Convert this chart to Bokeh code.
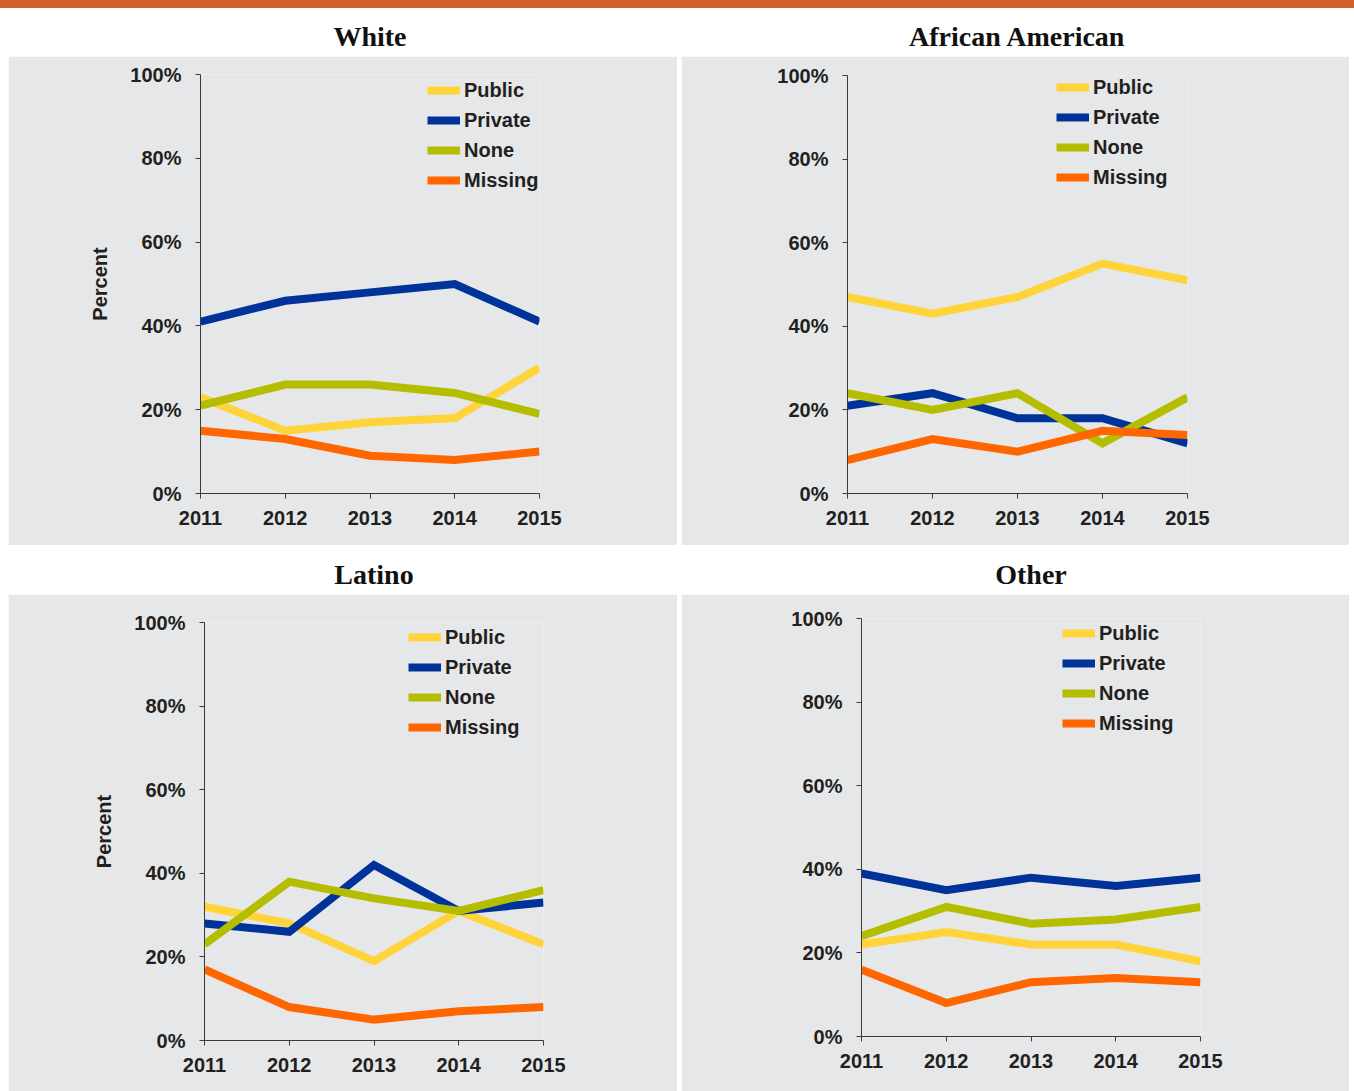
from bokeh.plotting import figure
from bokeh.models import Range1d, FixedTicker, PrintfTickFormatter, Legend, LegendItem, Spacer
from bokeh.layouts import column, row
from bokeh.core.properties import value
from bokeh.embed import file_html
from bokeh.resources import INLINE

# ---------------- data ----------------
years = [2011, 2012, 2013, 2014, 2015]
series_names = ["Public", "Private", "None", "Missing"]
y_ticks = [0, 20, 40, 60, 80, 100]

white_public = [23, 15, 17, 18, 30]
white_private = [41, 46, 48, 50, 41]
white_none = [21, 26, 26, 24, 19]
white_missing = [15, 13, 9, 8, 10]

aa_public = [47, 43, 47, 55, 51]
aa_private = [21, 24, 18, 18, 12]
aa_none = [24, 20, 24, 12, 23]
aa_missing = [8, 13, 10, 15, 14]

latino_public = [32, 28, 19, 31, 23]
latino_private = [28, 26, 42, 31, 33]
latino_none = [23, 38, 34, 31, 36]
latino_missing = [17, 8, 5, 7, 8]

other_public = [22, 25, 22, 22, 18]
other_private = [39, 35, 38, 36, 38]
other_none = [24, 31, 27, 28, 31]
other_missing = [16, 8, 13, 14, 13]

panel_titles = ["White", "African American", "Latino", "Other"]

# ---------------- style ----------------
COLORS = {"Public": "#FFD43B", "Private": "#003399", "None": "#B5BD00", "Missing": "#FF6600"}
BG = "#E6E7E8"
TXT = "#231F20"
AXIS = "#3A3A3A"
FONT = "Liberation Sans"


def blank_fig(width, height, fill):
    f = figure(width=width, height=height, output_backend="svg", toolbar_location=None, title=None,
               x_axis_type=None, y_axis_type=None,
               x_range=Range1d(0, 1), y_range=Range1d(0, height),
               min_border=0, min_border_left=0, min_border_right=0,
               min_border_top=0, min_border_bottom=0)
    f.grid.visible = False
    f.outline_line_color = None
    f.background_fill_color = fill
    f.border_fill_color = fill
    f.styles = {"background-color": fill}
    return f


def title_fig(text, width):
    t = blank_fig(width, 48, "white")
    t.text(x=[0.5], y=[20], text=[text], text_align="center", text_baseline="middle",
           text_font=value("Liberation Serif"), text_font_style="bold",
           text_font_size="28px", text_color="#111111")
    return t


def panel(data, width, height, bl, br, bt, bb, ylabel, leg_xy):
    p = figure(width=width, height=height, output_backend="svg", toolbar_location=None, title=None,
               x_range=Range1d(2011, 2015), y_range=Range1d(0, 100),
               min_border_left=bl, min_border_right=br, min_border_top=bt, min_border_bottom=bb)
    p.background_fill_color = BG
    p.border_fill_color = BG
    p.outline_line_color = None
    p.grid.visible = False

    items = []
    for name in series_names:
        r = p.line(years, data[name], line_width=8, line_color=COLORS[name], line_join="miter")
        items.append(LegendItem(label=name, renderers=[r]))

    for ax in (p.xaxis[0], p.yaxis[0]):
        ax.axis_line_color = AXIS
        ax.axis_line_width = 1
        ax.major_tick_line_color = AXIS
        ax.major_tick_out = 5
        ax.major_tick_in = 0
        ax.minor_tick_line_color = None
        ax.major_label_text_font = FONT
        ax.major_label_text_font_style = "bold"
        ax.major_label_text_font_size = "20px"
        ax.major_label_text_color = TXT

    p.xaxis.ticker = FixedTicker(ticks=years)
    p.xaxis.formatter = PrintfTickFormatter(format="%d")
    p.xaxis.major_label_standoff = 12
    p.yaxis.ticker = FixedTicker(ticks=y_ticks)
    p.yaxis.formatter = PrintfTickFormatter(format="%d%%")
    p.yaxis.major_label_standoff = 14
    if ylabel:
        p.yaxis.axis_label = ylabel
        p.yaxis.axis_label_text_font = FONT
        p.yaxis.axis_label_text_font_style = "bold"
        p.yaxis.axis_label_text_font_size = "20px"
        p.yaxis.axis_label_text_color = TXT
        p.yaxis.axis_label_standoff = 16

    leg = Legend(items=items, location=leg_xy, orientation="vertical",
                 glyph_width=33, glyph_height=24, label_height=24, label_standoff=4,
                 spacing=6, padding=0, margin=0,
                 border_line_color=None, background_fill_alpha=0,
                 label_text_font=FONT, label_text_font_style="bold",
                 label_text_font_size="20px", label_text_color=TXT)
    p.add_layout(leg)
    return p


def series(pub, pri, non, mis):
    return {"Public": pub, "Private": pri, "None": non, "Missing": mis}


LW, RW = 669, 668
H1, H2 = 489, 497

p1 = panel(series(white_public, white_private, white_none, white_missing),
           LW, H1, 192, 138, 18, 52, "Percent", (227, 301))
p2 = panel(series(aa_public, aa_private, aa_none, aa_missing),
           RW, H1, 166, 162, 19, 52, None, (209, 304))
p3 = panel(series(latino_public, latino_private, latino_none, latino_missing),
           LW, H2, 196, 134, 28, 51, "Percent", (204, 301))
p4 = panel(series(other_public, other_private, other_none, other_missing),
           RW, H2, 180, 149, 24, 55, None, (201, 301))

bar = blank_fig(1354, 8, "#D2602A")

left1 = column(title_fig(panel_titles[0], LW), p1, spacing=0)
right1 = column(title_fig(panel_titles[1], RW), p2, spacing=0)
left2 = column(title_fig(panel_titles[2], LW), p3, spacing=0)
right2 = column(title_fig(panel_titles[3], RW), p4, spacing=0)
right1.styles = {"margin-left": "4px"}
right2.styles = {"margin-left": "4px"}

layout = column(bar,
                row(Spacer(width=8, height=10), left1, right1, spacing=0),
                Spacer(width=10, height=1),
                row(Spacer(width=8, height=10), left2, right2, spacing=0),
                spacing=0)

open("out.html", "w").write(file_html(layout, INLINE))
